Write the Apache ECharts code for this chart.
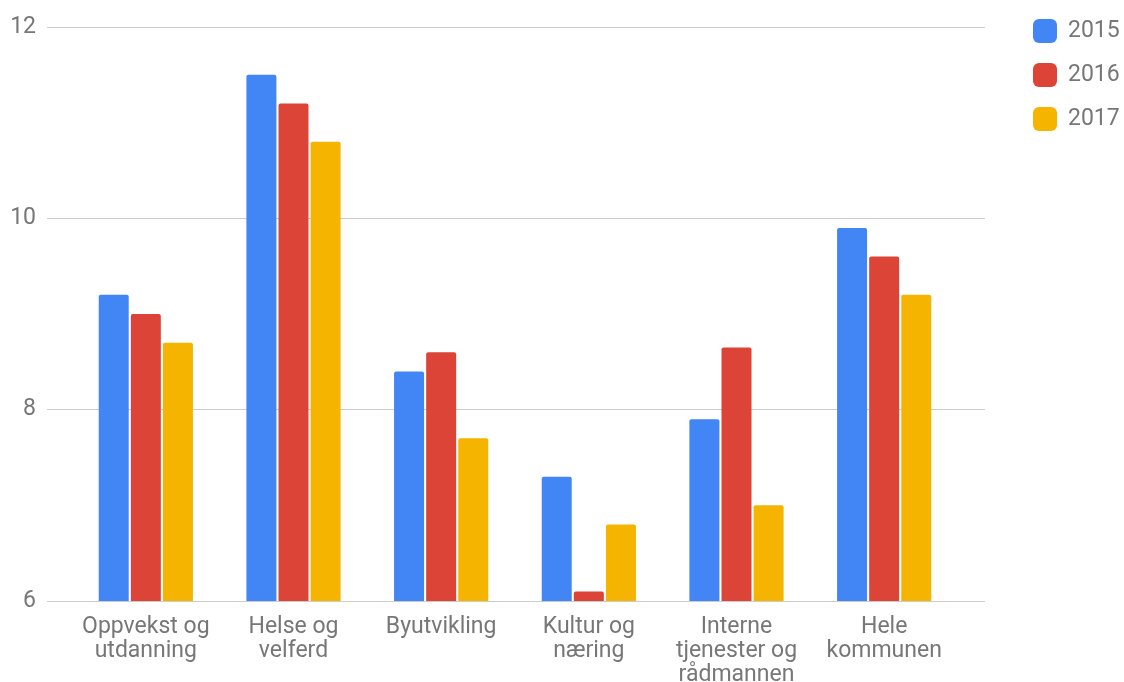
<!DOCTYPE html>
<html>
<head>
<meta charset="utf-8">
<script src="https://cdn.jsdelivr.net/npm/echarts@6/dist/echarts.min.js"></script>
<style>html,body{margin:0;padding:0;background:#fff}#c{width:1124px;height:682px}</style>
</head>
<body>
<div id="c"></div>
<script>
const categories = ["Oppvekst og\nutdanning", "Helse og\nvelferd", "Byutvikling", "Kultur og\nnæring", "Interne\ntjenester og\nrådmannen", "Hele\nkommunen"];
const years = ["2015", "2016", "2017"];
const values2015 = [9.2, 11.5, 8.4, 7.3, 7.9, 9.9];
const values2016 = [9.0, 11.2, 8.6, 6.1, 8.65, 9.6];
const values2017 = [8.7, 10.8, 7.7, 6.8, 7.0, 9.2];
const yTicks = [6, 8, 10, 12];

const colors = ["#4285F4", "#DB4437", "#F4B400"];
const seriesValues = [values2015, values2016, values2017];
const font = "Roboto, 'Noto Sans', sans-serif";

const chart = echarts.init(document.getElementById('c'));
chart.setOption({
  animation: false,
  color: colors,
  textStyle: { fontFamily: font },
  legend: {
    orient: 'vertical',
    left: 1028,
    top: 14,
    itemWidth: 24,
    itemHeight: 24,
    itemGap: 20,
    icon: 'roundRect',
    textStyle: { fontSize: 23, color: '#777777', fontFamily: font, padding: [0, 0, 0, 6] },
    data: years
  },
  grid: [
    { left: 47, right: 139, top: 27, bottom: 81, outerBoundsMode: 'none' },
    { left: 72, right: 166, top: 27, bottom: 81, outerBoundsMode: 'none' }
  ],
  xAxis: [
    { gridIndex: 0, type: 'value', show: false, min: 0, max: 1 },
    {
      gridIndex: 1, type: 'category', data: categories,
      axisLine: { show: false }, axisTick: { show: false },
      axisLabel: { fontSize: 23, color: '#777777', lineHeight: 24, margin: 14, interval: 0, fontFamily: font }
    }
  ],
  yAxis: [
    {
      gridIndex: 0, type: 'value', min: yTicks[0], max: yTicks[yTicks.length - 1], interval: 2,
      axisLine: { show: false }, axisTick: { show: false },
      axisLabel: { fontSize: 23, color: '#777777', margin: 11, fontFamily: font },
      splitLine: { lineStyle: { color: '#cccccc', width: 1 } }
    },
    {
      gridIndex: 1, type: 'value', min: yTicks[0], max: yTicks[yTicks.length - 1], interval: 2,
      show: false, splitLine: { show: false }
    }
  ],
  series: years.map((y, i) => ({
    name: y,
    type: 'bar',
    xAxisIndex: 1,
    yAxisIndex: 1,
    data: seriesValues[i],
    barWidth: 30,
    barGap: '7%',
    itemStyle: { color: colors[i], borderRadius: [2, 2, 0, 0] }
  }))
});
</script>
</body>
</html>
